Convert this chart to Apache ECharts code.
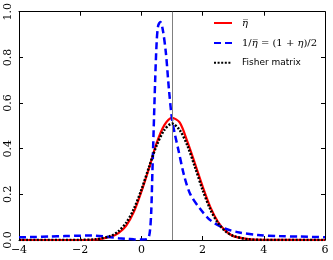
<!DOCTYPE html>
<html><head><meta charset="utf-8">
<script src="https://cdn.jsdelivr.net/npm/echarts@6/dist/echarts.min.js"></script>
<style>html,body{margin:0;padding:0;background:#fff}#c{width:333px;height:260px}</style>
</head><body><div id="c"></div>
<script>
// x positions and values
var redX = [-4, -2, -1.5, -1, -0.75, -0.5, -0.25, 0, 0.25, 0.5, 0.75, 1, 1.25, 1.5, 1.75, 2, 2.25, 2.5, 2.75, 3, 3.5, 4, 6];
var redY = [0, 0, 0.002, 0.014, 0.03, 0.062, 0.122, 0.212, 0.315, 0.425, 0.503, 0.535, 0.515, 0.432, 0.335, 0.235, 0.145, 0.08, 0.04, 0.017, 0.004, 0.001, 0];
var blueX = [-4, -3.5, -3, -2.5, -2, -1.7, -1.5, -1.25, -1, -0.75, -0.5, -0.25, 0, 0.2, 0.27, 0.32, 0.36, 0.4, 0.45, 0.5, 0.55, 0.62, 0.7, 0.8, 0.9, 1.0, 1.1, 1.2, 1.4, 1.6, 1.9, 2.25, 2.7, 3.2, 3.8, 4.5, 5.2, 6];
var blueY = [0.012, 0.013, 0.015, 0.017, 0.019, 0.02, 0.019, 0.016, 0.012, 0.008, 0.005, 0.003, 0.002, 0.005, 0.03, 0.12, 0.3, 0.48, 0.7, 0.87, 0.94, 0.955, 0.92, 0.82, 0.66, 0.53, 0.46, 0.4, 0.28, 0.2, 0.14, 0.087, 0.052, 0.033, 0.022, 0.017, 0.015, 0.012];
var fisherX = [-4, -2, -1.5, -1, -0.75, -0.5, -0.25, 0, 0.25, 0.5, 0.75, 1, 1.25, 1.5, 1.75, 2, 2.25, 2.5, 2.75, 3, 3.5, 4, 6];
var fisherY = [0, 0.0005, 0.003, 0.018, 0.038, 0.075, 0.135, 0.22, 0.32, 0.415, 0.482, 0.51, 0.482, 0.415, 0.32, 0.22, 0.135, 0.075, 0.038, 0.018, 0.003, 0.0005, 0];
var xTicks = [-4, -2, 0, 2, 4, 6];
var yTicks = [0.0, 0.2, 0.4, 0.6, 0.8, 1.0];
var refLineX = 1;
var names = ['η\u0305', '1/η\u0305 = (1 + η)/2', 'Fisher matrix'];
// legend labels in rich-text pieces
var legendRich = {
  'η\u0305': '{m|η\u0305}',
  '1/η\u0305 = (1 + η)/2': '{r|1/}{m|η\u0305}{r| = (1 + }{m|η}{r|)/2}',
  'Fisher matrix': '{s|Fisher matrix}'
};

function zip(xs, ys) { return xs.map(function (x, i) { return [x, ys[i]]; }); }
function fmtX(v) { return (v < 0 ? '\u2212' : '') + Math.abs(v); }
function fmtY(v) { return v.toFixed(1); }

var chart = echarts.init(document.getElementById('c'), null, {renderer: 'canvas'});
function axis(extra) {
  return Object.assign({
    type: 'value', splitLine: {show: false},
    axisLine: {show: true, onZero: false, lineStyle: {color: '#000', width: 1}},
    axisTick: {show: true, inside: true, length: 4, lineStyle: {color: '#000', width: 1}}
  }, extra);
}
chart.setOption({
  animation: false,
  grid: {left: 19, right: 8, top: 11, bottom: 20},
  xAxis: [
    axis({min: -4, max: 6, interval: 2, position: 'bottom',
      axisLabel: {margin: 5, fontFamily: 'DejaVu Serif', fontSize: 11, color: '#000', formatter: fmtX}}),
    axis({min: -4, max: 6, interval: 2, position: 'top', axisLabel: {show: false}})
  ],
  yAxis: [
    axis({min: 0, max: 1, interval: 0.2, position: 'left',
      axisLabel: {margin: 5, rotate: 90, fontFamily: 'DejaVu Serif', fontSize: 11, color: '#000', formatter: fmtY}}),
    axis({min: 0, max: 1, interval: 0.2, position: 'right', axisLabel: {show: false}})
  ],
  legend: {
    orient: 'vertical', left: 208, top: 13, itemWidth: 18, itemHeight: 12, itemGap: 10,
    itemStyle: {opacity: 0, color: 'transparent', borderWidth: 0},
    formatter: function (n) { return legendRich[n]; },
    textStyle: {color: '#000', padding: [0, 0, 0, 5],
      rich: {
        m: {fontFamily: 'DejaVu Serif', fontStyle: 'italic', fontSize: 10, color: '#000'},
        r: {fontFamily: 'DejaVu Serif', fontSize: 10, color: '#000'},
        s: {fontFamily: 'DejaVu Sans', fontSize: 9, color: '#000'}
      }},
    data: names
  },
  series: [
    {name: names[0], type: 'line', data: zip(redX, redY), showSymbol: false, symbol: 'none', smooth: 0.3,
      lineStyle: {color: '#ff0000', width: 2.2}, itemStyle: {color: '#ff0000'}, z: 3,
      markLine: {silent: true, symbol: 'none', label: {show: false},
        lineStyle: {color: '#808080', width: 1, type: 'solid'}, data: [{xAxis: refLineX}]}},
    {name: names[1], type: 'line', data: zip(blueX, blueY), showSymbol: false, symbol: 'none', smooth: 0.3,
      lineStyle: {color: '#0000ff', width: 2.5, type: [7, 4]}, itemStyle: {color: '#0000ff'}, z: 4},
    {name: names[2], type: 'line', data: zip(fisherX, fisherY), showSymbol: false, symbol: 'none', smooth: 0.3,
      lineStyle: {color: '#000000', width: 2.5, type: [2, 1.6]}, itemStyle: {color: '#000'}, z: 5}
  ]
});
</script></body></html>
